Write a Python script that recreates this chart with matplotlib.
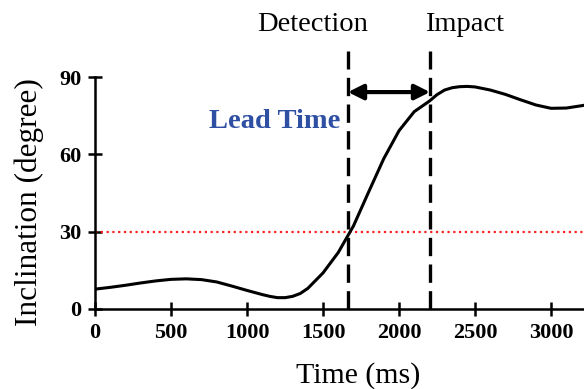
import matplotlib
matplotlib.use("Agg")
import matplotlib.pyplot as plt

time_ms = [0, 100, 200, 300, 400, 500, 600, 700, 800, 900, 1000, 1100, 1150, 1200, 1250,
           1300, 1350, 1400, 1500, 1600, 1700, 1800, 1900, 2000, 2100, 2200, 2250, 2300,
           2350, 2400, 2450, 2500, 2600, 2700, 2800, 2900, 3000, 3100, 3200, 3220]
inclination = [7.7, 8.4, 9.2, 10.1, 10.9, 11.5, 11.7, 11.4, 10.5, 8.9, 7.2, 5.6, 4.9, 4.4, 4.4,
               4.9, 6.0, 8.0, 14.0, 21.9, 32.2, 45.4, 58.4, 69.2, 76.6, 80.7, 83.2, 85.0,
               85.9, 86.3, 86.4, 86.2, 85.0, 83.3, 81.2, 79.2, 77.9, 78.0, 78.9, 79.1]
threshold = 30
detection_t = 1664
impact_t = 2204
x_ticks = [0, 500, 1000, 1500, 2000, 2500, 3000]
y_ticks = [0, 30, 60, 90]

plt.rcParams['font.family'] = ['Liberation Serif', 'DejaVu Serif']

fig = plt.figure(figsize=(5.84, 3.89), dpi=100)
ax = fig.add_axes([0.1627, 0.2057, 0.8373, 0.596])

ax.plot(time_ms, inclination, color='black', lw=2.2, zorder=3, solid_joinstyle='round')
ax.axhline(threshold, color='#ff2020', lw=1.6, linestyle=(0, (1, 1.6)), zorder=2)

for t in (detection_t, impact_t):
    ax.plot([t, t], [0, 100], color='black', lw=2.4, linestyle=(0, (5.5, 2.5)),
            clip_on=False, zorder=4)

ax.annotate('', xy=(detection_t, 84.2), xytext=(impact_t, 84.2),
            arrowprops=dict(arrowstyle='<|-|>,head_length=0.9,head_width=0.45',
                            color='black', lw=3, shrinkA=0, shrinkB=0))

ax.text(1431, 110.6, 'Detection', ha='center', va='center', fontsize=20.5)
ax.text(2428, 110.6, 'Impact', ha='center', va='center', fontsize=20.5)
ax.text(1612, 72.6, 'Lead Time', ha='right', va='center', fontsize=20.5,
        fontweight='bold', color='#2f4fa3')

ax.set_xlim(0, 3217)
ax.set_ylim(0, 90)
ax.set_xticks(x_ticks)
ax.set_yticks(y_ticks)
for lab in ax.get_xticklabels() + ax.get_yticklabels():
    lab.set_fontweight('bold')
ax.tick_params(direction='inout', length=10, width=1.8, labelsize=16)
ax.tick_params(axis='x', pad=5)
ax.tick_params(axis='y', pad=5)

for s in ('top', 'right'):
    ax.spines[s].set_visible(False)
for s in ('left', 'bottom'):
    ax.spines[s].set_linewidth(1.8)

ax.set_xlabel('Time (ms)', fontsize=21.5)
ax.set_ylabel('Inclination (degree)', fontsize=22.5)
ax.xaxis.set_label_coords(0.539, -0.23)
ax.yaxis.set_label_coords(-0.104, 0.461)

fig.savefig('out.png', dpi=100)
